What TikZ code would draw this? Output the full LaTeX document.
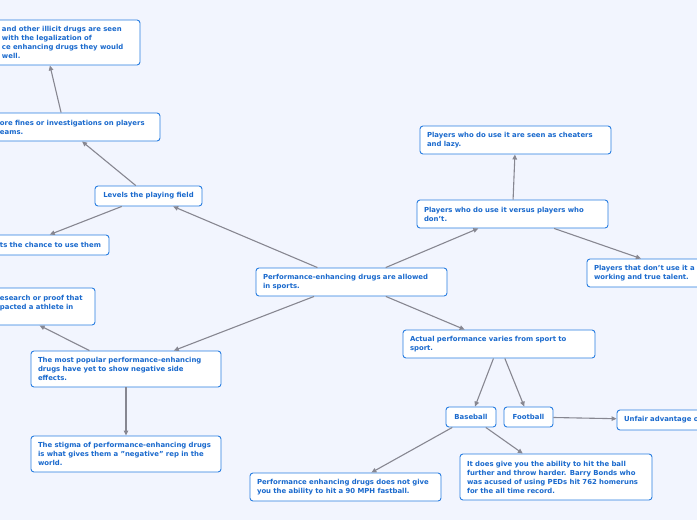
\documentclass[tikz,border=0pt]{standalone}
\usepackage{fontspec}
\setmainfont{DejaVu Sans}
\usetikzlibrary{arrows.meta}
\definecolor{paper}{RGB}{242,245,254}
\definecolor{rim}{RGB}{40,125,225}
\definecolor{ink}{RGB}{25,105,205}
\definecolor{wire}{RGB}{135,135,145}
\newcommand{\lpad}[1]{\leftskip=#1\relax}

\begin{document}
\begin{tikzpicture}[x=1pt,y=-1pt,
    idea/.style={draw=rim,fill=white,rounded corners=3pt,line width=0.9pt,text=ink,
      font=\fontsize{6.9}{9}\selectfont\bfseries,align=left,inner xsep=7pt,inner ysep=0pt},
    leaf/.style={idea,align=center,minimum height=20pt},
    link/.style={draw=wire,line width=1.1pt,-{Triangle[length=5pt,width=4.5pt]}}]
  \useasboundingbox (0,0) rectangle (697,520);
  \fill[paper] (0,0) rectangle (697,520);
  \clip (0,0) rectangle (697,520);
  % centre and left branch
  \node[idea,text width=177pt,minimum height=28pt] (core) at (351.5,282) {Performance-enhancing drugs are allowed\\in sports.};
  \node[leaf,minimum width=107pt] (level) at (148.5,196) {Levels the playing field};
  \node[idea,text width=177pt,minimum height=28pt] (fines) at (64.5,127) {\lpad{24pt}ore fines or investigations on players\\eams.\par};
  \node[idea,text width=177pt,minimum height=45pt] (illicit) at (44.5,42.5) {\lpad{46pt}and other illicit drugs are seen\\with the legalization of\\ce enhancing drugs they would\\well.\par};
  \node[idea,text width=158pt,minimum height=20pt] (chance) at (23,245) {\lpad{56pt}\mbox{ts the chance to use them}\par};
  \node[idea,text width=176pt,minimum height=36pt] (popular) at (126,369) {The most popular performance-enhancing\\drugs have yet to show negative side\\effects.};
  \node[idea,text width=172pt,minimum height=37pt] (research) at (2,306.5) {\lpad{84pt}esearch or proof that\\pacted a athlete in\\\mbox{}\par};
  \node[idea,text width=176pt,minimum height=36pt] (stigma) at (126,454) {The stigma of performance-enhancing drugs\\is what gives them a "negative" rep in the\\world.};
  % right branch
  \node[idea,text width=177pt,minimum height=28pt] (versus) at (512.5,214) {Players who do use it versus players who\\don't.};
  \node[idea,text width=177pt,minimum height=28pt] (cheat) at (515.5,140) {Players who do use it are seen as cheaters\\and lazy.};
  \node[idea,text width=177pt,minimum height=28pt] (talent) at (682.5,273) {Players that don't use it a\\working and true talent.};
  \node[idea,text width=178pt,minimum height=28pt] (varies) at (499,344) {Actual performance varies from sport to\\sport.};
  \node[leaf,minimum width=50pt] (baseball) at (471,417) {Baseball};
  \node[leaf,minimum width=49pt] (football) at (528.5,417) {Football};
  \node[idea,text width=116pt,minimum height=20pt] (unfair) at (682,420) {Unfair advantage o};
  \node[idea,text width=177pt,minimum height=28pt] (fastball) at (345.5,487) {Performance enhancing drugs does not give\\you the ability to hit a 90 MPH fastball.};
  \node[idea,text width=178pt,minimum height=46pt] (bonds) at (556,477) {It does give you the ability to hit the ball\\further and throw harder. Barry Bonds who\\was acused of using PEDs hit 762 homeruns\\for the all time record.};
  \foreach \a/\b in {core/level,level/fines,fines/illicit,level/chance,core/popular,popular/research,
                     popular/stigma,core/versus,versus/cheat,versus/talent,core/varies,varies/baseball,
                     varies/football,football/unfair,baseball/fastball,baseball/bonds}
    \draw[link] (\a) -- (\b);
\end{tikzpicture}
\end{document}
